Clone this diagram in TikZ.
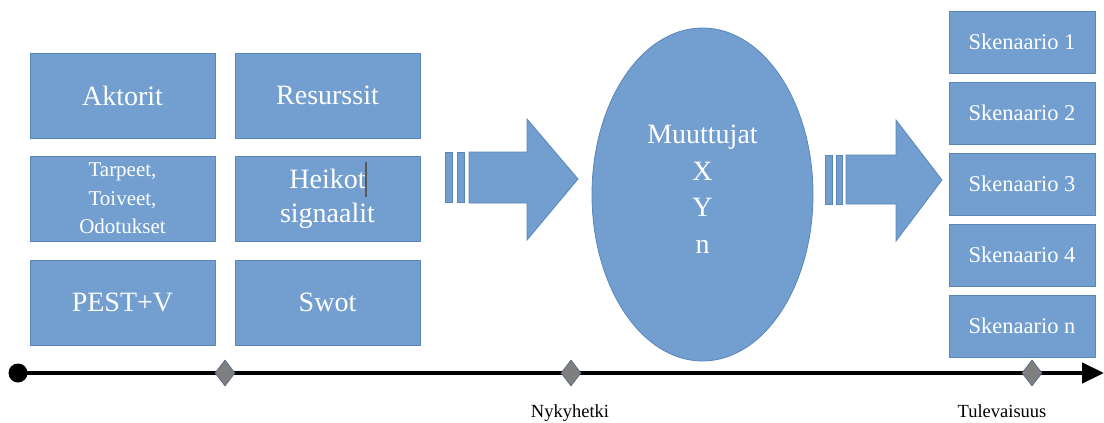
\documentclass[tikz,border=0pt]{standalone}
\usepackage{fontspec}
\setmainfont{Liberation Serif}
\usetikzlibrary{shapes.geometric,arrows.meta}
\definecolor{boxfill}{HTML}{729FCF}
\definecolor{boxline}{HTML}{5A86BA}
\definecolor{markfill}{HTML}{7F7F7F}
\definecolor{markline}{HTML}{5C6D88}
\tikzset{
  block/.style={draw=boxline, line width=0.8pt, fill=boxfill, text=white,
    minimum width=185pt, minimum height=85pt, inner sep=0pt, align=center},
  bigtext/.style={font=\fontsize{28}{34}\selectfont},
  midtext/.style={font=\fontsize{21}{28.5}\selectfont},
  scentext/.style={font=\fontsize{22.5}{26}\selectfont},
  scen/.style={block, scentext, minimum width=146pt, minimum height=62pt},
  fatarrow/.style={draw=boxline, line width=0.8pt, fill=boxfill},
  milestone/.style={diamond, draw=markline, line width=0.8pt, fill=markfill,
    minimum width=20pt, minimum height=26pt, aspect=0.77, inner sep=0pt},
  timetext/.style={font=\fontsize{18.5}{22}\selectfont, anchor=base}
}
\begin{document}
\begin{tikzpicture}[x=1pt,y=-1pt]
\useasboundingbox (0,0) rectangle (1104,423);

% input factors
\node[block,bigtext] (akt) at (122.5,95.5) {Aktorit};
\node[block,bigtext] (res) at (327.5,95.5) {Resurssit};
\node[block,midtext] (tar) at (122.5,198.5) {Tarpeet,\\Toiveet,\\Odotukset};
\node[block,bigtext] (hei) at (327.5,198.5) {Heikot\\signaalit};
\node[block,bigtext] (pest) at (122.5,302.5) {PEST+V};
\node[block,bigtext] (swot) at (327.5,302.5) {Swot};
\draw[gray!70!black, line width=1.1pt] (366,162) -- (366,197);

% first striped arrow
\draw[fatarrow] (445,152) rectangle (452,202);
\draw[fatarrow] (457,152) rectangle (464,202);
\draw[fatarrow] (469,152) -- (527,152) -- (527,119) -- (578,179)
  -- (527,240) -- (527,203) -- (469,203) -- cycle;

% variables
\node[ellipse, draw=boxline, line width=0.8pt, fill=boxfill,
  minimum width=221pt, minimum height=333pt, inner sep=0pt] (muu) at (702.5,194.5) {};
\node[text=white, align=center, font=\fontsize{28}{36.5}\selectfont]
  (vars) at (702.5,189) {Muuttujat\\X\\Y\\n};

% second striped arrow
\draw[fatarrow] (825,155) rectangle (832,204);
\draw[fatarrow] (836,155) rectangle (842,204);
\draw[fatarrow] (846,155) -- (896,155) -- (896,120) -- (942,180)
  -- (896,241) -- (896,204) -- (846,204) -- cycle;

% scenarios
\node[scen] (s1) at (1022,42) {Skenaario 1};
\node[scen] (s2) at (1022,113) {Skenaario 2};
\node[scen] (s3) at (1022,184) {Skenaario 3};
\node[scen] (s4) at (1022,255) {Skenaario 4};
\node[scen] (sn) at (1022,326) {Skenaario n};

% timeline
\node[circle, fill=black, minimum size=19pt, inner sep=0pt] (start) at (18,373) {};
\coordinate (tend) at (1104,373);
\draw[line width=4.5pt, -{Triangle[length=22pt,width=20pt]}] (start.center) -- (tend);
\node[milestone] (m1) at (225,373) {};
\node[milestone] (m2) at (571,373) {};
\node[milestone] (m3) at (1032,373) {};
\node[timetext] (now) at (570,417) {Nykyhetki};
\node[timetext] (fut) at (1002,417) {Tulevaisuus};
\end{tikzpicture}
\end{document}
